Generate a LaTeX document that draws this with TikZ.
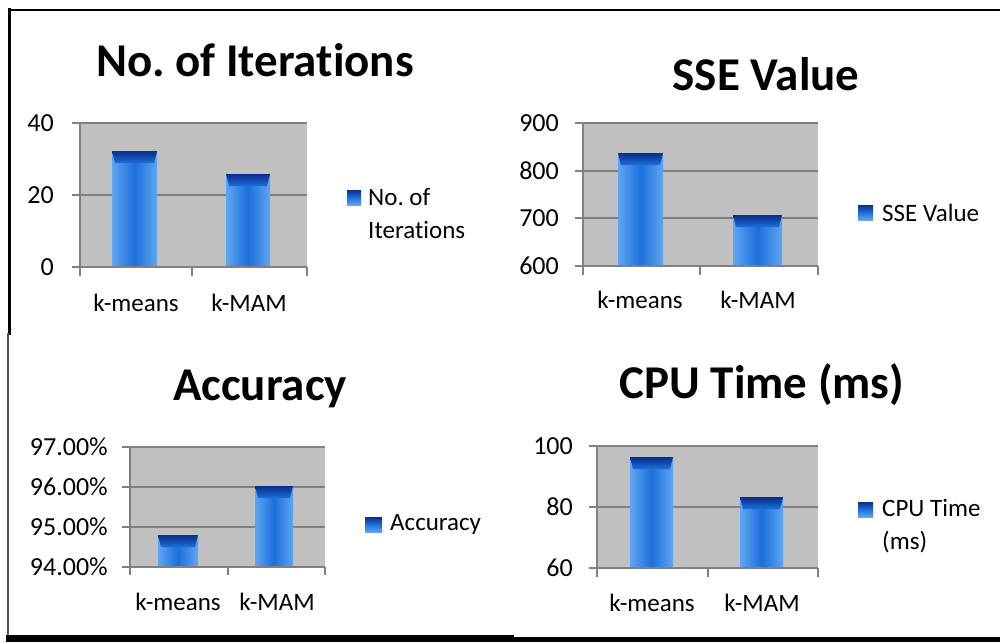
\documentclass[tikz,border=0pt]{standalone}
\usepackage{fontspec}
\setmainfont{Carlito}[Ligatures={NoCommon}]
\frenchspacing
\definecolor{plotgray}{HTML}{C0C0C0}
\definecolor{gridgray}{HTML}{808080}
\definecolor{barblue}{HTML}{1C6FDA}
\definecolor{barlight}{HTML}{5FA6F2}
\definecolor{barnavy}{HTML}{0A2C8C}
\definecolor{framegray}{HTML}{555555}
\tikzset{
  plotbg/.style={fill=plotgray},
  gridln/.style={draw=gridgray, line width=2pt},
  ttl/.style={font=\bfseries\fontsize{47}{47}\selectfont, inner sep=0pt, anchor=base},
  ylab/.style={font=\fontsize{26}{26}\selectfont, inner sep=0pt, anchor=east},
  xlab/.style={font=\fontsize{25}{25}\selectfont, inner sep=0pt},
  leg/.style={font=\fontsize{25}{33}\selectfont, inner sep=0pt, anchor=west, align=left},
  legmark/.style={top color=barnavy, bottom color=barlight, middle color=barblue},
  framebk/.style={draw=black, line cap=rect},
}
\newcommand{\mybar}[4]{%
  \shade[left color=barlight, right color=barlight, middle color=barblue] (#1,#3) rectangle (#2,#4);
  \shade[top color=barnavy, bottom color=barblue] (#1,#3) -- (#2,#3) -- (#2-3,#3+12) -- (#1+3,#3+12) -- cycle;
}
\begin{document}
\begin{tikzpicture}[x=1pt,y=-1pt]
\fill[white] (0,0) rectangle (1000,642);
\useasboundingbox (0,0) rectangle (1000,642);
% frame
\draw[framebk, line width=2.5pt] (9,10) -- (1000,10);
\draw[framebk, line width=3pt] (9,10) -- (9,333);
\draw[draw=framegray, line width=2pt] (8,333) -- (8,636);
\fill[black] (6,635) rectangle (514,642);
\fill[black] (514,637) rectangle (1000,642);

% ---------- Chart 1: No. of Iterations ----------
\node[ttl] (t1) at (255,77) {No. of Iterations};
\fill[plotbg] (80,123) rectangle (307,267);
\foreach \yy in {123,195}{\draw[gridln] (72,\yy) -- (307,\yy);}
\mybar{112}{157}{151}{267}
\mybar{226}{270}{174}{267}
\draw[gridln] (72,267) -- (307,267);
\draw[gridln] (80,123) -- (80,276);
\draw[gridln] (192,267) -- (192,276);
\draw[gridln] (307,267) -- (307,276);
\node[ylab] (a40) at (54,123) {40};
\node[ylab] (a20) at (54,195) {20};
\node[ylab] (a0) at (54,267) {0};
\node[xlab] (a1) at (136,303) {k-means};
\node[xlab] (a2) at (249,303) {k-MAM};
\shade[legmark] (347,190) rectangle (361,205);
\node[leg] (al) at (368,214) {No. of\\Iterations};

% ---------- Chart 2: SSE Value ----------
\node[ttl] (t2) at (766,90) {SSE Value};
\fill[plotbg] (583,123) rectangle (818,266);
\foreach \yy in {123,170.7,218.3}{\draw[gridln] (575,\yy) -- (818,\yy);}
\mybar{618}{663}{153}{266}
\mybar{733}{782}{215}{266}
\draw[gridln] (575,266) -- (818,266);
\draw[gridln] (583,123) -- (583,275);
\draw[gridln] (700,266) -- (700,275);
\draw[gridln] (818,266) -- (818,275);
\node[ylab] (b900) at (559,123) {900};
\node[ylab] (b800) at (559,170.7) {800};
\node[ylab] (b700) at (559,218.3) {700};
\node[ylab] (b600) at (559,266) {600};
\node[xlab] (b1) at (640,300) {k-means};
\node[xlab] (b2) at (758,300) {k-MAM};
\shade[legmark] (858,205) rectangle (873,220);
\node[leg] (bl) at (882,213) {SSE Value};

% ---------- Chart 3: Accuracy ----------
\node[ttl] (t3) at (260,400) {Accuracy};
\fill[plotbg] (130,447) rectangle (325,567);
\foreach \yy in {447,487,527}{\draw[gridln] (122,\yy) -- (325,\yy);}
\mybar{158}{198}{535}{567}
\mybar{255}{293}{486}{567}
\draw[gridln] (122,567) -- (325,567);
\draw[gridln] (130,447) -- (130,575);
\draw[gridln] (228,567) -- (228,575);
\draw[gridln] (325,567) -- (325,575);
\node[ylab] (c97) at (108,447) {97.00\%};
\node[ylab] (c96) at (108,487) {96.00\%};
\node[ylab] (c95) at (108,527) {95.00\%};
\node[ylab] (c94) at (108,567) {94.00\%};
\node[xlab] (c1) at (178,602) {k-means};
\node[xlab] (c2) at (277,602) {k-MAM};
\shade[legmark] (365,517) rectangle (382,532);
\node[leg] (cl) at (390,524) {Accuracy};

% ---------- Chart 4: CPU Time ----------
\node[ttl] (t4) at (762,398) {CPU Time (ms)};
\fill[plotbg] (597,446) rectangle (818,568);
\foreach \yy in {446,507}{\draw[gridln] (589,\yy) -- (818,\yy);}
\mybar{630}{673}{457}{568}
\mybar{740}{783}{497}{568}
\draw[gridln] (589,568) -- (818,568);
\draw[gridln] (597,446) -- (597,577);
\draw[gridln] (708,568) -- (708,577);
\draw[gridln] (818,568) -- (818,577);
\node[ylab] (d100) at (573,446) {100};
\node[ylab] (d80) at (573,507) {80};
\node[ylab] (d60) at (573,568) {60};
\node[xlab] (d1) at (652,603) {k-means};
\node[xlab] (d2) at (762,603) {k-MAM};
\shade[legmark] (858,502) rectangle (873,517);
\node[leg] (dl) at (882,526) {CPU Time\\(ms)};
\end{tikzpicture}
\end{document}
